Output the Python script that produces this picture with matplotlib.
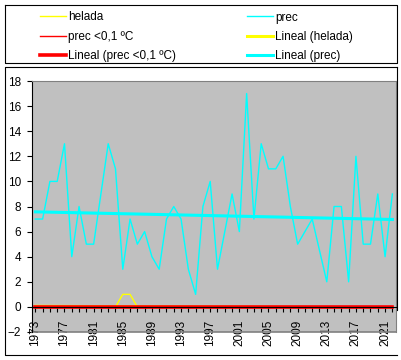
import numpy as np
import matplotlib
matplotlib.use('Agg')
import matplotlib.pyplot as plt
from matplotlib.lines import Line2D

plt.rcParams['font.family'] = ['Liberation Sans', 'DejaVu Sans']
plt.rcParams['font.size'] = 8

# data
years = list(range(1973, 2023))
prec = [7, 7, 10, 10, 13, 4, 8, 5, 5, 9,
        13, 11, 3, 7, 5, 6, 4, 3, 7, 8,
        7, 3, 1, 8, 10, 3, 6, 9, 6, 17,
        7, 13, 11, 11, 12, 8, 5, 6, 7, 4.5,
        2, 8, 8, 2, 12, 5, 5, 9, 4, 9]
helada = [0] * 12 + [1, 1] + [0] * 36
prec_frio = [0] * 50
label_years = list(range(1973, 2022, 4))

x = np.array(years)

def trend(y):
    k, b = np.polyfit(x, np.array(y, dtype=float), 1)
    return k * x + b

fig = plt.figure(figsize=(4.02, 3.6), dpi=100)
W, H = 402.0, 360.0
ax = fig.add_axes([31.7 / W, 1 - 332 / H, (396 - 31.7) / W, (332 - 81) / H])
ax.set_facecolor('#C0C0C0')

thin = 1.0
thick = 2.2
# helada trend sits almost on zero, hidden under the red one in the original
ax.plot(x, trend(helada), color='#FFFF00', lw=1.3, zorder=1.5)
l_hel, = ax.plot(x, helada, color='#FFFF00', lw=thin)
l_prec, = ax.plot(x, prec, color='#00FFFF', lw=thin)
l_frio, = ax.plot(x, prec_frio, color='#FF0000', lw=thin)
t_frio, = ax.plot(x, trend(prec_frio), color='#FF0000', lw=2.6)
t_prec, = ax.plot(x, trend(prec), color='#00FFFF', lw=thick)
t_hel = Line2D([], [], color='#FFFF00', lw=thick)

ax.set_xlim(1972.5, 2022.5)
ax.set_ylim(-2, 18)
ax.set_yticks(range(-2, 19, 2))
ax.set_xticks(label_years)
ax.set_xticks(years, minor=True)
ax.set_xticklabels([str(y) for y in label_years])

ax.spines['bottom'].set_position(('data', 0))
ax.spines['bottom'].set_color('black')
ax.spines['left'].set_color('black')
ax.spines['top'].set_color('#808080')
ax.spines['right'].set_color('#808080')
ax.axhline(-2, color='#808080', lw=1.2, clip_on=False)
ax.tick_params(axis='y', direction='out', length=3.6, width=0.8, pad=4, labelsize=8.5)
ax.tick_params(axis='x', which='both', direction='out', length=3.6, width=0.8,
               pad=5.5, labelrotation=90, labelsize=8.5)

# legend, two columns
leg_kw = dict(frameon=False, fontsize=8.5, handlelength=2.2, handletextpad=0.2,
              labelspacing=0.62, borderpad=0, borderaxespad=0, loc='upper left')
leg1 = fig.legend([l_hel, l_frio, t_frio],
                  ['helada', 'prec <0,1 ºC', 'Lineal (prec <0,1 ºC)'],
                  bbox_to_anchor=(40 / W, 1 - 11.5 / H), **leg_kw)
leg2 = fig.legend([l_prec, t_hel, t_prec],
                  ['prec', 'Lineal (helada)', 'Lineal (prec)'],
                  bbox_to_anchor=(247 / W, 1 - 11.5 / H), **leg_kw)

# borders of legend box and chart box
def fline(xs, ys):
    fig.add_artist(Line2D([v / W for v in xs], [1 - v / H for v in ys],
                          color='black', lw=0.8, transform=fig.transFigure))

fline([5, 397, 397, 5, 5], [5, 5, 63, 63, 5])
fline([397, 5, 5, 397], [67, 67, 355, 355])
fline([397, 397], [67, 310])

fig.savefig('out.png', dpi=100)
